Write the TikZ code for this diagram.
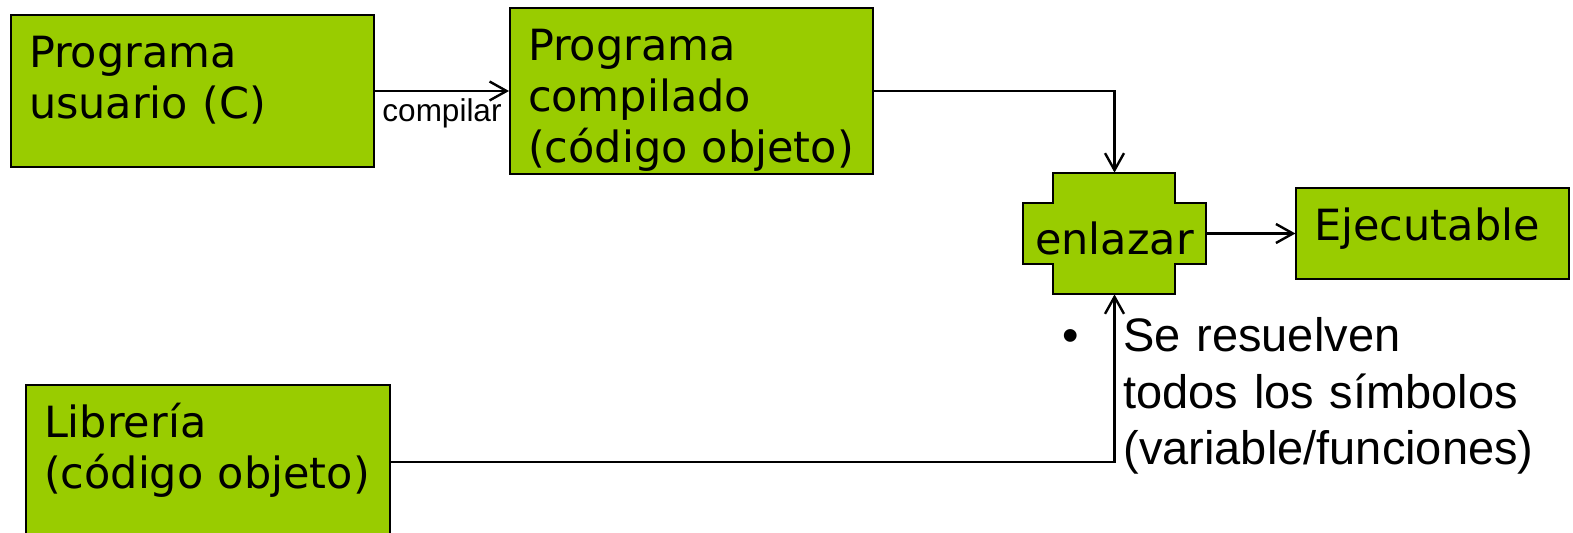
\documentclass[tikz,border=0pt]{standalone}
\usepackage{fontspec}
\setmainfont{DejaVu Sans}
\newfontfamily\arialfont{Liberation Sans}
\usetikzlibrary{positioning,arrows.meta,backgrounds}
\definecolor{lgreen}{RGB}{153,204,0}
\tikzset{>={Straight Barb[length=8.5pt,width=9.5pt]}}

\begin{document}
\begin{tikzpicture}[x=0.5pt,y=-0.5pt,
  box/.style={draw, line width=1pt, fill=lgreen, anchor=north west, align=left,
    inner xsep=9pt, inner ysep=0pt, text height=26.5pt,
    font=\fontsize{21.5pt}{25.3pt}\selectfont},
  conn/.style={->, line width=1.2pt},
  note/.style={font=\arialfont\fontsize{23.5pt}{28.25pt}\selectfont, inner sep=0pt}]
\useasboundingbox (0,0) rectangle (1573,533);
% cajas
\node[box, minimum width=181.5pt, text width=163.5pt, minimum height=76pt, text depth=49.5pt] (usr) at (10,14) {Programa\\usuario (C)};
\node[box, minimum width=181.5pt, text width=163.5pt, minimum height=83pt, text depth=56.5pt] (comp) at (509,7) {Programa\\compilado\\(código objeto)};
\node[box, minimum width=182pt, text width=164pt, minimum height=77pt, text depth=50.5pt] (lib) at (25,384) {Librería\\(código objeto)};
% enlazar
\node[minimum width=91.5pt, minimum height=60.5pt, inner sep=0pt, text height=21.5pt, text depth=0pt,
  font=\fontsize{21.5pt}{25pt}\selectfont] (enl) at (1114.5,233.5) {enlazar};
\begin{scope}[on background layer]
\filldraw[fill=lgreen, line width=1pt] ([xshift=15pt]enl.north west) -- ++(122,0) -- ++(0,30) -- ++(31,0)
  -- ++(0,61) -- ++(-31,0) -- ++(0,30) -- ++(-122,0) -- ++(0,-30) -- ++(-30,0) -- ++(0,-61) -- ++(30,0) -- cycle;
\end{scope}
\node[box, minimum width=136.5pt, text width=118.5pt, minimum height=45.5pt, text depth=19pt, right=44.5pt of enl] (eje) {Ejecutable};
% flechas
\draw[conn] (usr) -- node[below, inner sep=3pt, font=\arialfont\fontsize{15.75pt}{18pt}\selectfont] (lbl) {compilar} (comp);
\draw[conn] (comp.east) -| (enl.north);
\draw[conn] (lib.east) -| (enl.south);
\draw[conn] (enl.east) -- (eje.west);
% nota
\node[note, anchor=base] (dot) at (1071,352) {•};
\node[note, anchor=base west, text width=225pt, align=left] (res) at (1123,352) {Se resuelven\\todos los símbolos\\(variable/funciones)};
\end{tikzpicture}
\end{document}
